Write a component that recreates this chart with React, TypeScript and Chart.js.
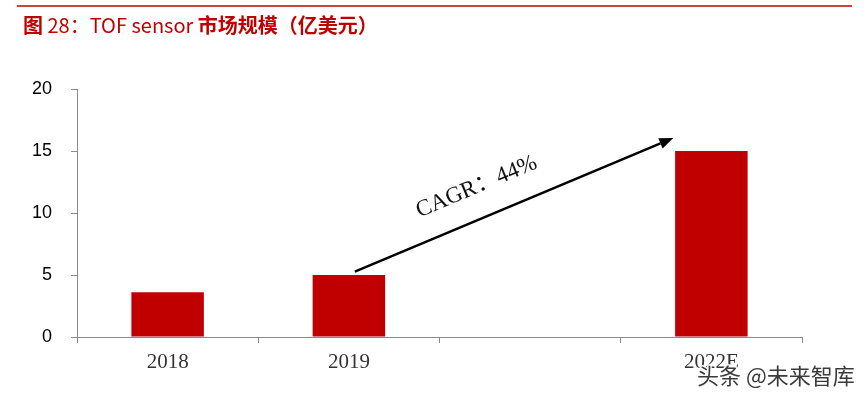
import React, { useEffect, useRef } from "react";
import { Chart, registerables } from "chart.js";

Chart.register(...registerables);

const categories = ["2018", "2019", "", "2022E"];
const marketSize = [3.6, 5.0, null, 15.0];
const yTicks = [0, 5, 10, 15, 20];
const titleParts = [
  { text: "图", bold: true },
  { text: " 28：TOF sensor ", bold: false },
  { text: "市场规模（亿美元）", bold: true },
];
const cagrLabel = "CAGR：44%";
const watermark = "头条 @未来智库";
// arrow anchors: [category index, value, pixel x offset]
const arrowFrom = [1, 5.27, 6];
const arrowTo = [3, 16.05, -38];

const RED = "#c00000";
const AXIS = "#898989";

const overlay = {
  id: "overlay",
  afterDraw(chart: any) {
    const ctx = chart.ctx;
    const xs = chart.scales.x;
    const ys = chart.scales.y;
    ctx.save();
    // top red rule
    ctx.strokeStyle = RED;
    ctx.lineWidth = 1.5;
    ctx.beginPath();
    ctx.moveTo(17, 6);
    ctx.lineTo(852, 6);
    ctx.stroke();
    // title
    let tx = 23;
    ctx.fillStyle = RED;
    ctx.textBaseline = "middle";
    ctx.textAlign = "left";
    for (const p of titleParts) {
      ctx.font = (p.bold ? "bold " : "") + "20px 'Noto Sans CJK SC', 'Liberation Sans', sans-serif";
      ctx.fillText(p.text, tx, 25);
      tx += ctx.measureText(p.text).width;
    }
    // arrow
    const x1 = xs.getPixelForValue(arrowFrom[0]) + arrowFrom[2];
    const y1 = ys.getPixelForValue(arrowFrom[1]);
    const x2 = xs.getPixelForValue(arrowTo[0]) + arrowTo[2];
    const y2 = ys.getPixelForValue(arrowTo[1]);
    const ang = Math.atan2(y2 - y1, x2 - x1);
    const headLen = 14;
    const headW = 5.5;
    const bx = x2 - headLen * Math.cos(ang);
    const by = y2 - headLen * Math.sin(ang);
    ctx.strokeStyle = "#000";
    ctx.lineWidth = 2.5;
    ctx.beginPath();
    ctx.moveTo(x1, y1);
    ctx.lineTo(bx, by);
    ctx.stroke();
    ctx.fillStyle = "#000";
    ctx.beginPath();
    ctx.moveTo(x2, y2);
    ctx.lineTo(bx + headW * Math.sin(ang), by - headW * Math.cos(ang));
    ctx.lineTo(bx - headW * Math.sin(ang), by + headW * Math.cos(ang));
    ctx.closePath();
    ctx.fill();
    // CAGR label
    const mx = x1 + (x2 - x1) * 0.42;
    const my = y1 + (y2 - y1) * 0.42;
    const off = 31;
    ctx.translate(mx + off * Math.sin(ang), my - off * Math.cos(ang));
    ctx.rotate(ang);
    ctx.font = "23px 'Liberation Serif', 'Noto Sans CJK SC', serif";
    ctx.fillStyle = "#111";
    ctx.textAlign = "center";
    ctx.textBaseline = "middle";
    ctx.fillText(cagrLabel, 0, 0);
    ctx.restore();
    // watermark
    ctx.save();
    ctx.font = "22px 'Noto Sans CJK SC', sans-serif";
    ctx.textAlign = "left";
    ctx.textBaseline = "middle";
    ctx.lineWidth = 3;
    ctx.strokeStyle = "rgba(255,255,255,0.95)";
    ctx.strokeText(watermark, 697, 376);
    ctx.fillStyle = "#3a3a3a";
    ctx.fillText(watermark, 697, 376);
    ctx.restore();
  },
};

export default function App() {
  const ref = useRef<HTMLCanvasElement | null>(null);
  useEffect(() => {
    if (!ref.current) return;
    const chart = new Chart(ref.current, {
      type: "bar",
      data: {
        labels: categories,
        datasets: [
          {
            data: marketSize as any,
            backgroundColor: RED,
            barPercentage: 0.4,
            categoryPercentage: 1,
          },
        ],
      },
      options: {
        animation: false,
        responsive: false,
        maintainAspectRatio: false,
        layout: { padding: { top: 89, left: 0, right: 66, bottom: 0 } },
        plugins: { legend: { display: false }, tooltip: { enabled: false }, title: { display: false } },
        scales: {
          x: {
            type: "category",
            offset: true,
            grid: { display: true, offset: true, drawOnChartArea: false, drawTicks: true, tickLength: 6, color: AXIS },
            border: { display: true, color: AXIS, width: 1 },
            ticks: {
              color: "#333",
              padding: 7,
              maxRotation: 0,
              autoSkip: false,
              font: { family: "'Liberation Serif', serif", size: 21 },
            },
            afterFit: (s: any) => {
              s.height = 62;
            },
          },
          y: {
            min: 0,
            max: 20,
            afterBuildTicks: (s: any) => {
              s.ticks = yTicks.map((v) => ({ value: v }));
            },
            grid: { display: true, drawOnChartArea: false, drawTicks: true, tickLength: 6, color: AXIS },
            border: { display: true, color: AXIS, width: 1 },
            ticks: {
              color: "#000",
              padding: 19,
              font: { family: "'Liberation Sans', sans-serif", size: 18 },
            },
            afterFit: (s: any) => {
              s.width = 77;
            },
          },
        },
      },
      plugins: [overlay],
    });
    return () => chart.destroy();
  }, []);
  return (
    <div style={{ position: "fixed", left: 0, top: 0, width: 868, height: 399, background: "#fff" }}>
      <canvas ref={ref} width={868} height={399} style={{ display: "block" }} />
    </div>
  );
}
